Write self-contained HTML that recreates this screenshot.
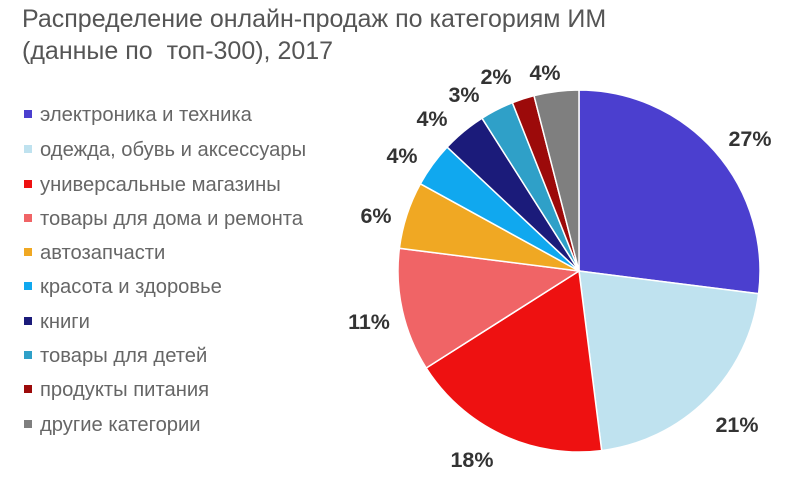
<!DOCTYPE html>
<html><head><meta charset="utf-8"><style>
body{margin:0;width:800px;height:481px;background:#fff;overflow:hidden;position:relative;font-family:"Liberation Sans",sans-serif}
.t{position:absolute;left:22px;top:3px;font-size:25px;line-height:32px;color:#555}
.lg{position:absolute;left:24px;font-size:20.2px;color:#666;line-height:22px}
.lg i{display:inline-block;width:8px;height:8px;margin-right:8px;vertical-align:3px}
</style></head><body>
<div class="t">Распределение онлайн-продаж по категориям ИМ<br>(данные по&nbsp; топ-300), 2017</div>
<div class="lg" style="top:104px"><i style="background:#4b3fcf"></i>электроника и техника</div>
<div class="lg" style="top:139px"><i style="background:#bfe2ef"></i>одежда, обувь и аксессуары</div>
<div class="lg" style="top:174px"><i style="background:#ee1111"></i>универсальные магазины</div>
<div class="lg" style="top:208px"><i style="background:#f06466"></i>товары для дома и ремонта</div>
<div class="lg" style="top:242px"><i style="background:#f0a823"></i>автозапчасти</div>
<div class="lg" style="top:276px"><i style="background:#10a8ef"></i>красота и здоровье</div>
<div class="lg" style="top:311px"><i style="background:#1b1b7a"></i>книги</div>
<div class="lg" style="top:345px"><i style="background:#2fa0c8"></i>товары для детей</div>
<div class="lg" style="top:379px"><i style="background:#9c0a0a"></i>продукты питания</div>
<div class="lg" style="top:414px"><i style="background:#7f7f7f"></i>другие категории</div>
<svg width="800" height="481" style="position:absolute;left:0;top:0">
<g stroke="#fff" stroke-width="1.5">
<path d="M579,271 L579,90 A181,181 0 0 1 758.6,293.7Z" fill="#4b3fcf"/>
<path d="M579,271 L758.6,293.7 A181,181 0 0 1 601.7,450.6Z" fill="#bfe2ef"/>
<path d="M579,271 L601.7,450.6 A181,181 0 0 1 426.2,368Z" fill="#ee1111"/>
<path d="M579,271 L426.2,368 A181,181 0 0 1 399.4,248.3Z" fill="#f06466"/>
<path d="M579,271 L399.4,248.3 A181,181 0 0 1 420.4,183.8Z" fill="#f0a823"/>
<path d="M579,271 L420.4,183.8 A181,181 0 0 1 447.1,147.1Z" fill="#10a8ef"/>
<path d="M579,271 L447.1,147.1 A181,181 0 0 1 482,118.2Z" fill="#1b1b7a"/>
<path d="M579,271 L482,118.2 A181,181 0 0 1 512.4,102.7Z" fill="#2fa0c8"/>
<path d="M579,271 L512.4,102.7 A181,181 0 0 1 534,95.7Z" fill="#9c0a0a"/>
<path d="M579,271 L534,95.7 A181,181 0 0 1 579,90Z" fill="#7f7f7f"/>
</g>
<g font-family="Liberation Sans, sans-serif" font-weight="bold" font-size="21.5" fill="#333" text-anchor="middle">
<text x="750" y="146">27%</text>
<text x="737" y="432">21%</text>
<text x="472" y="467">18%</text>
<text x="369" y="329">11%</text>
<text x="376" y="223">6%</text>
<text x="402" y="163">4%</text>
<text x="432" y="126">4%</text>
<text x="464" y="102">3%</text>
<text x="496" y="84">2%</text>
<text x="545" y="80">4%</text>
</g>
</svg>
</body></html>
